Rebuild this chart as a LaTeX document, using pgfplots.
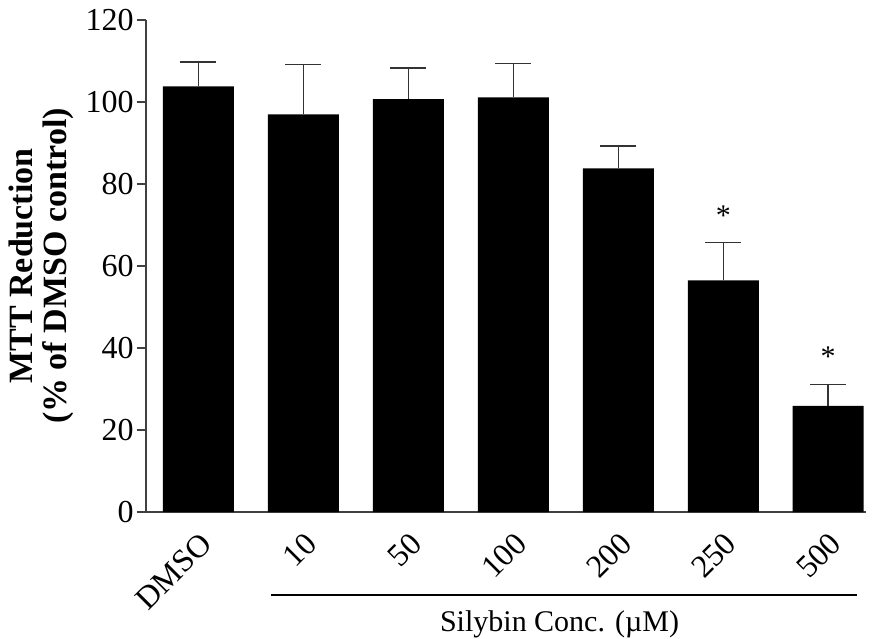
\documentclass[border=0pt]{standalone}
\usepackage{fontspec}
\setmainfont{Liberation Serif}
\usepackage{pgfplots}
\pgfplotsset{compat=1.18}
\begin{document}
\begin{tikzpicture}
\useasboundingbox (-73pt,-63pt) rectangle (363.5pt,256pt);
\begin{axis}[
 at={(0,0)}, anchor=south west,
 scale only axis, width=360pt, height=246pt,
 xmin=-0.5, xmax=6.36, ymin=0, ymax=120,
 axis lines=left, axis line style={-, line width=0.7pt, black!75},
 ytick={0,20,...,120}, tick align=outside, major tick length=4.5pt,
 y tick style={black!75, line width=0.7pt},
 xtick={0,...,6}, xticklabels={DMSO,10,50,100,200,250,500}, x tick style={draw=none},
 xticklabel style={rotate=45, anchor=north east, font=\fontsize{16}{18}\selectfont},
 yticklabel style={font=\fontsize{16}{18}\selectfont, inner sep=1.5pt},
 /pgf/number format/assume math mode=true,
 ylabel={MTT Reduction\\(\% of DMSO control)},
 ylabel style={font=\bfseries\fontsize{17}{17}\selectfont, align=center},
 ylabel shift=1pt,
 clip=false,
]
\addplot[ybar, bar width=35.5pt, fill=black, draw=none,
  error bars/.cd, y dir=plus, y explicit,
  error bar style={line width=0.75pt, black!80},
  error mark options={rotate=90, mark size=9pt, line width=0.75pt, black!80}]
 coordinates {
 (0,103.8) +- (0,6.0)
 (1,97.0) +- (0,12.1)
 (2,100.7) +- (0,7.6)
 (3,101.1) +- (0,8.3)
 (4,83.8) +- (0,5.5)
 (5,56.5) +- (0,9.2)
 (6,25.9) +- (0,5.2)
 };
\node[font=\fontsize{15}{18}\selectfont] at (axis cs:5,72.3) {*};
\node[font=\fontsize{15}{18}\selectfont] at (axis cs:6,37.8) {*};
\draw[line width=1.2pt] ([yshift=-41.5pt]axis cs:0.695,0) -- ([yshift=-41.5pt]axis cs:6.276,0);
\node[font=\fontsize{15}{18}\selectfont] at ([yshift=-56pt]axis cs:3.44,0) {Silybin Conc. (µM)};
\end{axis}
\end{tikzpicture}
\end{document}
